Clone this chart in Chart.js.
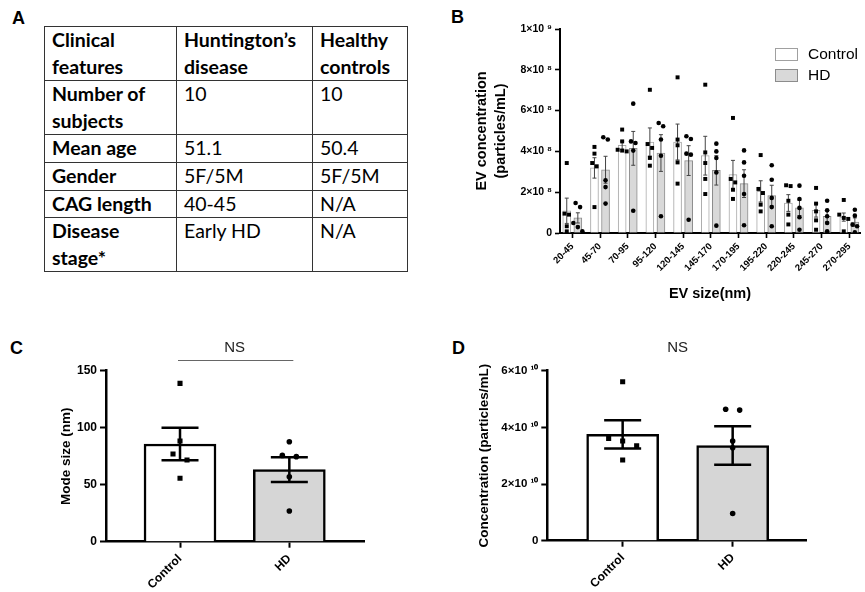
<!DOCTYPE html>
<html>
<head>
<meta charset="utf-8">
<title>EV characterisation</title>
<script src="https://cdn.jsdelivr.net/npm/chart.js@4.4.1/dist/chart.umd.min.js"></script>
<style>
    html, body { margin: 0; padding: 0; background: #fff; }
    #fig { position: relative; width: 865px; height: 592px; overflow: hidden; font-family: 'Liberation Sans', Arial, sans-serif; }
    .tag { position: absolute; font-weight: bold; font-size: 18px; line-height: 18px; color: #000; }
    canvas { position: absolute; }
    table.clin { position: absolute; left: 44px; top: 26px; border-collapse: collapse; table-layout: fixed;
        font-family: Lato, 'Open Sans', sans-serif; font-size: 19.5px; line-height: 26.5px; color: #000; }
    table.clin td { border: 1px solid #333; padding: 0 0 0 7px; vertical-align: top; white-space: pre; overflow: hidden; }
    table.clin tr.head td, table.clin td:first-child { font-weight: bold; }
</style>
</head>
<body>
<div id="fig">
    <div class="tag" style="left:12px; top:9px;">A</div>
    <div class="tag" style="left:451px; top:8px;">B</div>
    <div class="tag" style="left:10px; top:339px;">C</div>
    <div class="tag" style="left:452px; top:339px;">D</div>
    <table class="clin" id="clinTable"></table>
    <canvas id="chartB" width="435" height="310" style="left:430px; top:0;"></canvas>
    <canvas id="chartC" width="420" height="292" style="left:0; top:300px;"></canvas>
    <canvas id="chartD" width="435" height="292" style="left:430px; top:300px;"></canvas>
</div>
<script>
// ---- panel A: clinical table ----
const tableHead = ['Clinical\nfeatures', 'Huntington’s\ndisease', 'Healthy\ncontrols'];
const tableRows = [
    ['Number of\nsubjects', '10', '10'],
    ['Mean age', '51.1', '50.4'],
    ['Gender', '5F/5M', '5F/5M'],
    ['CAG length', '40-45', 'N/A'],
    ['Disease\nstage*', 'Early HD', 'N/A']
];

// ---- shared ----
const groupLabels = ['Control', 'HD'];
const nsText = 'NS';

// ---- panel B: size distribution, values in units of 1e8 particles/mL ----
const sizeBins = ['20-45', '45-70', '70-95', '95-120', '120-145', '145-170', '170-195', '195-220', '220-245', '245-270', '270-295'];
const bControlMean = [1.09, 3.19, 4.30, 4.46, 4.46, 3.79, 2.86, 2.04, 1.47, 1.11, 0.78];
const bControlSem  = [0.62, 0.50, 0.20, 0.69, 0.88, 0.95, 0.70, 0.52, 0.41, 0.33, 0.20];
const bHdMean = [0.74, 3.10, 4.15, 3.92, 3.55, 3.07, 2.42, 1.83, 1.23, 0.82, 0.54];
const bHdSem  = [0.25, 0.66, 0.83, 0.90, 0.73, 0.72, 0.68, 0.51, 0.38, 0.27, 0.20];
const bControlPts = [
    [3.43, 0.95, 0.90, 0.33, 0.08],
    [4.22, 3.89, 3.43, 3.27, 1.27],
    [5.07, 4.49, 4.08, 4.04, 4.00],
    [7.02, 4.36, 4.17, 3.68, 3.30],
    [7.63, 4.58, 4.30, 3.46, 2.42],
    [7.27, 3.95, 3.43, 2.65, 1.91],
    [5.64, 2.65, 2.48, 2.12, 1.67],
    [3.82, 2.16, 1.96, 1.39, 1.06],
    [2.34, 2.30, 1.58, 0.90, 0.42],
    [2.21, 1.44, 1.06, 0.62, 0.16],
    [1.62, 0.90, 0.74, 0.69, 0.08]
];
const bHdPts = [
    [1.47, 1.27, 0.49, 0.29, 0.08],
    [4.69, 4.58, 2.58, 2.25, 1.44],
    [6.34, 4.49, 4.41, 4.04, 1.09],
    [5.39, 5.23, 4.58, 3.79, 0.82],
    [4.74, 4.61, 3.89, 3.84, 0.65],
    [4.38, 4.00, 3.68, 2.97, 0.36],
    [4.05, 3.46, 2.81, 1.91, 0.38],
    [3.32, 2.61, 1.72, 1.27, 0.33],
    [2.32, 1.67, 1.23, 0.77, 0.16],
    [1.58, 1.11, 0.82, 0.49, 0.08],
    [1.14, 0.85, 0.41, 0.33, 0.03]
];
const bTickLabels = ['0', '2×10 ⁸', '4×10 ⁸', '6×10 ⁸', '8×10 ⁸', '1×10 ⁹'];

// ---- panel C: mode size (nm) ----
const cMean = [85.7, 63.2];
const cSem = [14.3, 10.8];
const cControlPts = [138.9, 88.3, 76.9, 71.6, 55.6];
const cHdPts = [87.7, 75.7, 74.6, 57.0, 26.9];
const cTickLabels = ['0', '50', '100', '150'];

// ---- panel D: concentration, units of 1e10 particles/mL ----
const dMean = [3.75, 3.36];
const dSem = [0.50, 0.68];
const dControlPts = [5.61, 3.61, 3.52, 3.35, 2.85];
const dHdPts = [4.64, 4.61, 3.52, 3.28, 0.96];
const dTickLabels = ['0', '2×10 ¹⁰', '4×10 ¹⁰', '6×10 ¹⁰'];

const FONT = "'Liberation Sans', Arial, sans-serif";
const HD_GREY = '#d6d6d6';

Chart.defaults.font.family = FONT;
Chart.defaults.color = '#000';
Chart.defaults.animation = false;
Chart.defaults.events = [];
Chart.defaults.plugins.legend.display = false;
Chart.defaults.plugins.tooltip.enabled = false;

function buildTable() {
    const rowHeights = [53, 54, 28, 26, 26, 50];
    const colWidths = [132, 136, 95];
    const table = document.getElementById('clinTable');
    const cg = document.createElement('colgroup');
    colWidths.forEach(w => { const c = document.createElement('col'); c.style.width = w + 'px'; cg.appendChild(c); });
    table.appendChild(cg);
    [tableHead, ...tableRows].forEach((row, r) => {
        const tr = document.createElement('tr');
        if (r === 0) tr.className = 'head';
        tr.style.height = rowHeights[r] + 'px';
        row.forEach(txt => { const td = document.createElement('td'); td.textContent = txt; tr.appendChild(td); });
        table.appendChild(tr);
    });
}

// points for one group, all starting at the group's x; the swarm plugin spreads them
function pointsAt(groups, shift) {
    const out = [];
    groups.forEach((vals, i) => vals.forEach(v => out.push({ x: i + shift, y: v, bx: i + shift })));
    return out;
}

// spread points that sit at nearly the same height, GraphPad style
const swarmPlugin = {
    id: 'swarm',
    afterLayout(chart) {
        const xs = chart.scales.x, ys = chart.scales.y;
        const unit = Math.abs(xs.getPixelForValue(1) - xs.getPixelForValue(0));
        chart.data.datasets.forEach(ds => {
            if (!ds.swarm) return;
            const groups = {};
            ds.data.forEach(p => { (groups[p.bx] = groups[p.bx] || []).push(p); });
            Object.values(groups).forEach(pts => {
                pts.sort((a, b) => b.y - a.y);
                let cluster = [];
                const flush = () => {
                    cluster.forEach((p, k) => { p.x = p.bx + (k - (cluster.length - 1) / 2) * ds.swarm.step / unit; });
                    cluster = [];
                };
                pts.forEach(p => {
                    const last = cluster[cluster.length - 1];
                    if (last && Math.abs(ys.getPixelForValue(last.y) - ys.getPixelForValue(p.y)) >= ds.swarm.gap) flush();
                    cluster.push(p);
                });
                flush();
            });
        });
    }
};

// mean ± SEM whiskers drawn on top of each bar dataset
const errorBarPlugin = {
    id: 'errorBars',
    afterDatasetDraw(chart, args) {
        const ds = chart.data.datasets[args.index];
        if (!ds.errors) return;
        const ys = chart.scales.y, ctx = chart.ctx;
        ctx.save();
        ctx.strokeStyle = ds.errColor;
        ctx.lineWidth = ds.errWidth;
        args.meta.data.forEach((bar, i) => {
            const m = ds.data[i].y, e = ds.errors[i];
            const top = ys.getPixelForValue(m + e), bot = ys.getPixelForValue(m - e);
            const hw = ds.capWidth / 2;
            ctx.beginPath();
            ctx.moveTo(bar.x, top); ctx.lineTo(bar.x, bot);
            ctx.moveTo(bar.x - hw, top); ctx.lineTo(bar.x + hw, top);
            ctx.moveTo(bar.x - hw, bot); ctx.lineTo(bar.x + hw, bot);
            ctx.stroke();
        });
        ctx.restore();
    }
};

const legendBPlugin = {
    id: 'legendB',
    afterDraw(chart) {
        const ctx = chart.ctx;
        const items = [
            { text: groupLabels[0], fill: '#fff', stroke: '#a0a0a0' },
            { text: groupLabels[1], fill: '#d9d9d9', stroke: '#8c8c8c' }
        ];
        const x0 = chart.chartArea.right - 85;
        ctx.save();
        ctx.font = '15.5px ' + FONT;
        ctx.textBaseline = 'middle';
        items.forEach((it, k) => {
            const y = 48.5 + k * 21;
            ctx.fillStyle = it.fill;
            ctx.fillRect(x0 + 0.5, y, 22, 12);
            ctx.strokeStyle = it.stroke;
            ctx.lineWidth = 1;
            ctx.strokeRect(x0 + 0.5, y, 22, 12);
            ctx.fillStyle = '#000';
            ctx.fillText(it.text, x0 + 33, y + 6.5);
        });
        ctx.restore();
    }
};

function nsPlugin(withLine) {
    return {
        id: 'ns',
        afterDraw(chart) {
            const xs = chart.scales.x, ctx = chart.ctx;
            const a = xs.getPixelForValue(0), b = xs.getPixelForValue(1);
            ctx.save();
            ctx.font = '15px ' + FONT;
            ctx.fillStyle = '#222';
            ctx.textAlign = 'center';
            ctx.textBaseline = 'middle';
            ctx.fillText(nsText, (a + b) / 2, 48);
            if (withLine) {
                ctx.strokeStyle = '#666';
                ctx.lineWidth = 1;
                ctx.beginPath();
                ctx.moveTo(a - 2, 60.5);
                ctx.lineTo(b + 4, 60.5);
                ctx.stroke();
            }
            ctx.restore();
        }
    };
}

function makeChart(id, o) {
    const axisBits = {
        border: { display: true, color: '#000', width: o.axisWidth },
        grid: { display: true, drawOnChartArea: false, drawTicks: true, tickLength: o.tickLen, tickColor: '#000', tickWidth: o.axisWidth * 0.8, offset: false }
    };
    return new Chart(document.getElementById(id), {
        type: 'bar',
        data: { datasets: o.datasets },
        options: {
            responsive: false,
            layout: { padding: o.padding },
            scales: {
                x: {
                    type: 'linear', min: o.xMin, max: o.xMax, offset: false,
                    ...axisBits,
                    afterBuildTicks: s => { s.ticks = o.xLabels.map((_, i) => ({ value: i })); },
                    afterFit: s => { s.height = o.xHeight; },
                    ticks: { autoSkip: false, minRotation: 45, maxRotation: 45, padding: o.xPad,
                        font: { size: o.xFont, weight: 'bold' }, callback: v => o.xLabels[v] },
                    title: o.xTitle ? { display: true, text: o.xTitle, font: { size: o.titleFont, weight: 'bold' }, padding: { top: 0, bottom: o.xTitlePad } } : { display: false }
                },
                y: {
                    type: 'linear', min: 0, max: o.yMax,
                    ...axisBits,
                    afterFit: s => { s.width = o.yWidth; },
                    ticks: { stepSize: o.yStep, padding: 3, font: { size: o.yFont, weight: 'bold' },
                        callback: v => o.yLabels[Math.round(v / o.yStep)] },
                    title: { display: true, text: o.yTitle, font: { size: o.titleFont, weight: 'bold', lineHeight: o.titleLH },
                        padding: { top: o.titlePad, bottom: 0 } }
                }
            }
        },
        plugins: [swarmPlugin, errorBarPlugin, ...(o.plugins || [])]
    });
}

function renderB() {
    const shift = 0.2;
    makeChart('chartB', {
        padding: { left: 40, top: 29, right: 5, bottom: 0 },
        yWidth: 90, xHeight: 77, axisWidth: 2, tickLen: 5,
        xMin: -0.444, xMax: 10.386, xLabels: sizeBins, xFont: 9.5, xPad: 3,
        xTitle: 'EV size(nm)', xTitlePad: 7,
        yMax: 10, yStep: 2, yLabels: bTickLabels, yFont: 10.5,
        yTitle: ['EV concentration', '(particles/mL)'], titleFont: 14.5, titleLH: 1.3, titlePad: 3,
        datasets: [
            { type: 'bar', label: groupLabels[0], data: bControlMean.map((v, i) => ({ x: i - shift, y: v })),
              backgroundColor: '#fff', borderColor: '#a8a8a8', borderWidth: 1, barThickness: 8, grouped: false, order: 2,
              errors: bControlSem, errColor: '#444', errWidth: 1, capWidth: 4 },
            { type: 'bar', label: groupLabels[1], data: bHdMean.map((v, i) => ({ x: i + shift, y: v })),
              backgroundColor: '#d9d9d9', borderColor: '#8c8c8c', borderWidth: 1, barThickness: 8, grouped: false, order: 2,
              errors: bHdSem, errColor: '#444', errWidth: 1, capWidth: 4 },
            { type: 'scatter', data: pointsAt(bControlPts, -shift), parsing: false, order: 1,
              pointStyle: 'rect', pointRadius: 2.8, backgroundColor: '#000', borderWidth: 0, swarm: { step: 4.5, gap: 4.5 } },
            { type: 'scatter', data: pointsAt(bHdPts, shift), parsing: false, order: 1,
              pointStyle: 'circle', pointRadius: 2.3, backgroundColor: '#000', borderWidth: 0, swarm: { step: 4.5, gap: 4.5 } }
        ],
        plugins: [legendBPlugin]
    });
}

function groupPanel(id, o) {
    makeChart(id, Object.assign({
        axisWidth: 2.5, tickLen: 6, xLabels: groupLabels, xFont: 12, xPad: 4,
        titleFont: 13.5, titleLH: 1.2,
        datasets: [
            { type: 'bar', data: o.mean.map((v, i) => ({ x: i, y: v })),
              backgroundColor: ['#fff', HD_GREY], borderColor: '#000', borderWidth: 2.5, barThickness: 72, grouped: false, order: 2,
              errors: o.sem, errColor: '#000', errWidth: 2.5, capWidth: 37 },
            { type: 'scatter', data: pointsAt([o.ctrlPts], 0), parsing: false, order: 1,
              pointStyle: 'rect', pointRadius: 3.6, backgroundColor: '#000', borderWidth: 0, swarm: { step: 14, gap: 6.5 } },
            { type: 'scatter', data: pointsAt([o.hdPts], 1), parsing: false, order: 1,
              pointStyle: 'circle', pointRadius: 2.8, backgroundColor: '#000', borderWidth: 0, swarm: { step: 14, gap: 6.5 } }
        ]
    }, o.layout));
}

function render() {
    buildTable();
    renderB();
    groupPanel('chartC', {
        mean: cMean, sem: cSem, ctrlPts: cControlPts, hdPts: cHdPts,
        layout: { padding: { left: 50, top: 70.7, right: 56, bottom: 0 }, yWidth: 56, xHeight: 50.3,
            xMin: -0.677, xMax: 1.683, yMax: 150, yStep: 50, yLabels: cTickLabels, yFont: 12,
            yTitle: 'Mode size (nm)', titlePad: 8, plugins: [nsPlugin(true)] }
    });
    groupPanel('chartD', {
        mean: dMean, sem: dSem, ctrlPts: dControlPts, hdPts: dHdPts,
        layout: { padding: { left: 40, top: 70.7, right: 58.3, bottom: 0 }, yWidth: 77.3, xHeight: 51.3,
            xMin: -0.685, xMax: 1.673, yMax: 6, yStep: 2, yLabels: dTickLabels, yFont: 11.5,
            yTitle: 'Concentration (particles/mL)', titlePad: 6, plugins: [nsPlugin(false)] }
    });
}

render();
</script>
</body>
</html>
